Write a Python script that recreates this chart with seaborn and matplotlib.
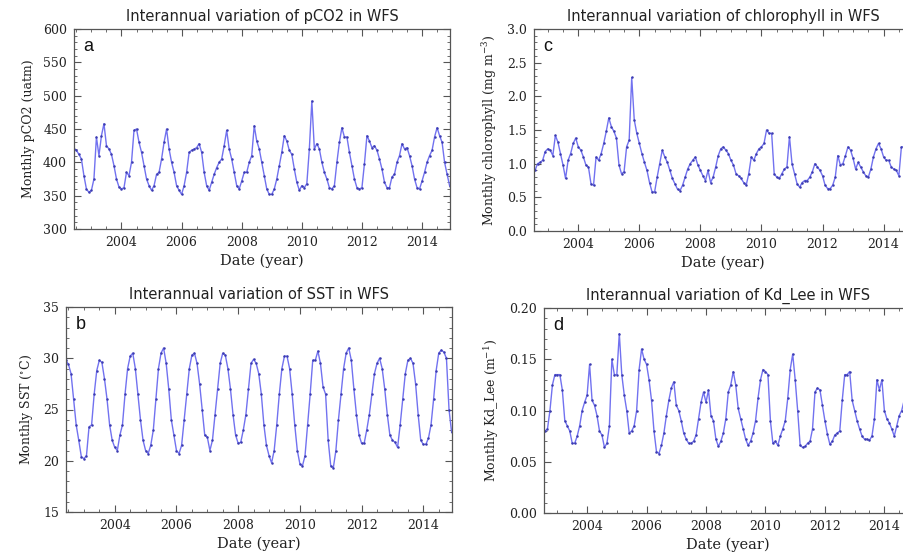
import numpy as np
import pandas as pd
import matplotlib
matplotlib.use("Agg")
import matplotlib.pyplot as plt
from matplotlib.ticker import MultipleLocator, FormatStrFormatter
import seaborn as sns

# ---------------- data (monthly, June 2002 - Dec 2014) ----------------
start_year = 2002
start_month = 6
n_months = 151
dates = [start_year + (start_month - 1 + k) / 12.0 for k in range(n_months)]

pco2 = [
    420, 418, 412, 405, 380, 360, 355,
    358, 375, 438, 410, 440, 458, 425, 420, 412, 395, 375, 363,
    360, 362, 385, 380, 400, 448, 450, 430, 415, 395, 375, 365,
    358, 365, 382, 385, 405, 430, 450, 420, 400, 385, 365, 358,
    352, 365, 385, 415, 418, 420, 422, 428, 415, 385, 365, 358,
    370, 382, 392, 400, 405, 425, 448, 420, 405, 385, 365, 360,
    372, 385, 385, 400, 410, 455, 432, 420, 400, 380, 360, 352,
    352, 360, 375, 395, 415, 440, 432, 418, 412, 390, 370, 358,
    365, 362, 368, 420, 492, 420, 428, 420, 400, 385, 375, 362,
    360, 365, 400, 430, 452, 438, 438, 415, 395, 375, 362, 360,
    362, 398, 440, 432, 422, 425, 418, 405, 390, 370, 362, 362,
    378, 382, 400, 410, 428, 420, 422, 410, 395, 375, 362, 360,
    372, 385, 400, 410, 418, 438, 452, 440, 430, 400, 382, 365,
]

sst = [
    29.8, 29.4, 28.5, 26.0, 23.5, 22.0, 20.4,
    20.2, 20.5, 23.3, 23.5, 26.5, 28.8, 29.8, 29.6, 28.0, 26.0, 23.5, 22.0,
    21.3, 21.0, 22.5, 23.5, 26.5, 29.0, 30.2, 30.5, 29.0, 26.5, 24.0, 22.0,
    21.0, 20.7, 21.5, 23.0, 26.0, 29.0, 30.5, 31.0, 29.5, 27.0, 24.0, 22.5,
    21.0, 20.7, 21.5, 24.0, 26.5, 29.0, 30.3, 30.5, 29.5, 27.5, 25.0, 22.5,
    22.3, 21.0, 22.0, 24.5, 27.0, 29.5, 30.5, 30.3, 29.0, 27.0, 24.5, 22.5,
    21.7, 21.8, 23.0, 24.5, 27.0, 29.5, 29.9, 29.5, 28.5, 26.5, 23.5, 21.5,
    20.5, 19.8, 21.0, 23.5, 26.5, 29.0, 30.2, 30.2, 29.0, 26.5, 23.5, 21.0,
    19.7, 19.5, 20.5, 23.5, 26.5, 29.8, 29.8, 30.7, 29.5, 27.2, 26.5, 22.0,
    19.5, 19.3, 21.0, 24.0, 26.5, 29.0, 30.5, 31.0, 29.8, 27.0, 24.5, 22.5,
    21.7, 21.7, 23.0, 24.5, 26.5, 28.5, 29.5, 30.0, 29.0, 27.0, 24.5, 22.5,
    22.0, 21.8, 21.3, 23.5, 26.0, 28.5, 29.8, 30.0, 29.5, 27.5, 24.5, 22.0,
    21.6, 21.6, 22.2, 23.5, 26.0, 28.8, 30.5, 30.8, 30.6, 30.0, 25.0, 22.8,
]

chl = [
    0.90, 0.90, 0.90, 1.00, 1.02, 1.05, 1.18,
    1.22, 1.20, 1.12, 1.42, 1.32, 1.15, 0.98, 0.78, 1.05, 1.15, 1.30, 1.38,
    1.25, 1.20, 1.10, 0.98, 0.95, 0.70, 0.68, 1.10, 1.05, 1.15, 1.30, 1.48,
    1.68, 1.55, 1.48, 1.38, 0.98, 0.85, 0.88, 1.25, 1.35, 2.28, 1.65, 1.45,
    1.30, 1.15, 1.02, 0.90, 0.72, 0.58, 0.58, 0.80, 1.00, 1.20, 1.10, 1.02,
    0.90, 0.78, 0.70, 0.62, 0.60, 0.68, 0.80, 0.92, 1.00, 1.05, 1.10, 0.98,
    0.90, 0.82, 0.75, 0.90, 0.72, 0.80, 0.95, 1.12, 1.22, 1.25, 1.20, 1.15,
    1.05, 0.98, 0.85, 0.82, 0.78, 0.72, 0.68, 0.85, 1.10, 1.05, 1.15, 1.22,
    1.25, 1.30, 1.50, 1.45, 1.45, 0.85, 0.80, 0.78, 0.85, 0.92, 0.95, 1.40,
    1.00, 0.85, 0.70, 0.65, 0.72, 0.75, 0.75, 0.80, 0.88, 1.00, 0.95, 0.90,
    0.82, 0.68, 0.63, 0.63, 0.68, 0.80, 1.12, 0.98, 1.00, 1.12, 1.25, 1.20,
    1.08, 0.92, 1.02, 0.95, 0.88, 0.82, 0.80, 0.92, 1.10, 1.22, 1.30, 1.22,
    1.10, 1.05, 1.05, 0.95, 0.92, 0.90, 0.82, 1.25, 1.25, 1.20, 1.10, 1.00,
]

kd = [
    0.078, 0.080, 0.080, 0.082, 0.100, 0.125, 0.135,
    0.135, 0.135, 0.120, 0.090, 0.085, 0.080, 0.068, 0.068, 0.075, 0.085, 0.100, 0.108,
    0.115, 0.145, 0.110, 0.105, 0.095, 0.080, 0.076, 0.064, 0.068, 0.085, 0.150, 0.135,
    0.135, 0.175, 0.135, 0.115, 0.100, 0.078, 0.080, 0.085, 0.100, 0.140, 0.160, 0.150,
    0.145, 0.130, 0.110, 0.080, 0.060, 0.058, 0.066, 0.078, 0.095, 0.110, 0.122, 0.128,
    0.105, 0.100, 0.090, 0.078, 0.072, 0.068, 0.068, 0.070, 0.076, 0.092, 0.108, 0.118,
    0.108, 0.120, 0.095, 0.090, 0.072, 0.065, 0.070, 0.078, 0.092, 0.118, 0.125, 0.138,
    0.125, 0.102, 0.092, 0.082, 0.072, 0.066, 0.070, 0.078, 0.090, 0.112, 0.130, 0.140,
    0.138, 0.135, 0.090, 0.068, 0.070, 0.066, 0.075, 0.082, 0.090, 0.112, 0.140, 0.155,
    0.130, 0.100, 0.066, 0.064, 0.065, 0.068, 0.070, 0.082, 0.118, 0.122, 0.120, 0.105,
    0.090, 0.077, 0.067, 0.070, 0.076, 0.078, 0.080, 0.110, 0.135, 0.135, 0.138, 0.110,
    0.100, 0.090, 0.082, 0.075, 0.072, 0.072, 0.071, 0.075, 0.092, 0.130, 0.120, 0.130,
    0.100, 0.092, 0.088, 0.082, 0.075, 0.085, 0.095, 0.100, 0.110, 0.120, 0.130, 0.130,
]

titles = ["Interannual variation of pCO2 in WFS",
          "Interannual variation of SST in WFS",
          "Interannual variation of chlorophyll in WFS",
          "Interannual variation of Kd_Lee in WFS"]
ylabels = ["Monthly pCO2 (uatm)",
           "Monthly SST ($^{\\circ}$C)",
           "Monthly chlorophyll (mg m$^{-3}$)",
           "Monthly Kd_Lee (m$^{-1}$)"]
letters = ["a", "b", "c", "d"]
xlabel = "Date (year)"
year_ticks = [2004, 2006, 2008, 2010, 2012, 2014]

# ---------------- style ----------------
sns.set_theme(style="ticks")
plt.rcParams["font.family"] = ["DejaVu Serif"]
plt.rcParams["mathtext.fontset"] = "dejavuserif"
plt.rcParams["axes.edgecolor"] = "#555555"
plt.rcParams["axes.linewidth"] = 0.9

W, H = 904, 552
fig = plt.figure(figsize=(W / 100, H / 100), dpi=100)

def pos(left, right, top, bottom):
    return [left / W, 1 - bottom / H, (right - left) / W, (bottom - top) / H]

panels = [
    # (series, ylim, major, minor, fmt, rect, xlim)
    (pco2, (300, 600), 50, 10, "%d", pos(74, 450, 29, 229), (2002.42, 2014.93)),
    (sst, (15, 35), 5, 1, "%d", pos(66, 452, 307, 512), (2002.42, 2014.93)),
    (chl, (0.0, 3.0), 0.5, 0.1, "%.1f", pos(534, 912, 29, 231), (2002.55, 2014.93)),
    (kd, (0.0, 0.20), 0.05, 0.01, "%.2f", pos(544, 912, 308, 513), (2002.55, 2014.93)),
]

line_col = "#7272f0"
mark_col = "#3c3cb0"
sans = ["Liberation Sans", "DejaVu Sans"]

for i, (vals, ylim, major, minor, fmt, rect, xlim) in enumerate(panels):
    ax = fig.add_axes(rect)
    df = pd.DataFrame({"date": dates, "value": vals})
    sns.lineplot(data=df, x="date", y="value", ax=ax, color=line_col, lw=1.0,
                 marker="o", markersize=1.8, markerfacecolor=mark_col,
                 markeredgecolor=mark_col, markeredgewidth=0)
    ax.set_xlim(*xlim)
    ax.set_ylim(*ylim)
    ax.set_xticks(year_ticks)
    ax.set_xticklabels([str(y) for y in year_ticks])
    ax.xaxis.set_minor_locator(MultipleLocator(0.5))
    ax.yaxis.set_major_locator(MultipleLocator(major))
    ax.yaxis.set_minor_locator(MultipleLocator(minor))
    ax.yaxis.set_major_formatter(FormatStrFormatter(fmt))
    ax.tick_params(which="both", direction="in", top=True, right=True,
                   colors="#555555", labelcolor="#222222", labelsize=9, pad=5)
    ax.tick_params(which="major", length=5, width=0.8)
    ax.tick_params(which="minor", length=2.5, width=0.6)
    ax.set_xlabel(xlabel, fontsize=10.5, color="#222222", labelpad=3)
    ax.set_ylabel(ylabels[i], fontsize=9, color="#222222", labelpad=6)
    ax.set_title(titles[i], fontsize=10.5, family=["DejaVu Sans"],
                 color="#222222", pad=6)
    ax.text(0.025, 0.955, letters[i], transform=ax.transAxes, fontsize=13,
            family=sans, color="#111111", va="top", ha="left")

fig.savefig("out.png", dpi=100)
